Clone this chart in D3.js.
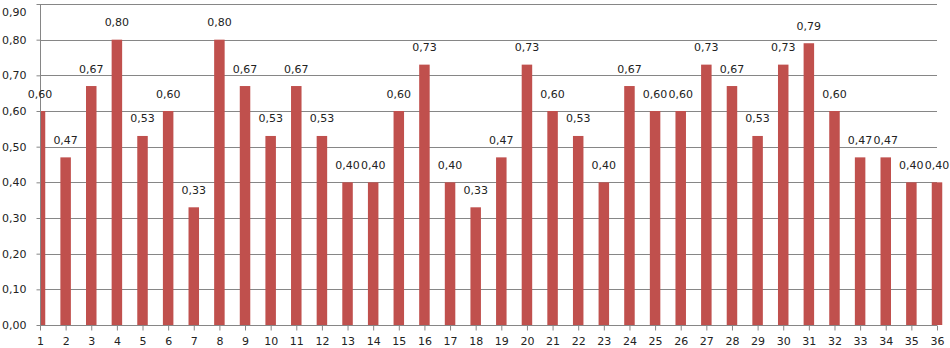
<!DOCTYPE html>
<html><head><meta charset="utf-8">
<script src="https://cdn.jsdelivr.net/npm/d3@7"></script>
<style>body{margin:0;background:#fff}svg{display:block}</style>
</head><body>
<svg id="c" width="950" height="348"></svg>
<script>
const categories = d3.range(1, 37).map(String);
const values = [0.60,0.47,0.67,0.80,0.53,0.60,0.33,0.80,0.67,0.53,0.67,0.53,0.40,0.40,0.60,0.73,0.40,0.33,0.47,0.73,0.60,0.53,0.40,0.67,0.60,0.60,0.73,0.67,0.53,0.73,0.79,0.60,0.47,0.47,0.40,0.40];
const yTicks = [0,0.1,0.2,0.3,0.4,0.5,0.6,0.7,0.8,0.9];

const svg = d3.select("#c");
const L = 40, R = 937, T = 4, B = 325;
const x = d3.scalePoint().domain(categories).range([L, R]).padding(0);
const y = d3.scaleLinear().domain([0, 0.9]).range([B, T]);
const fmt = v => d3.format(".2f")(v).replace(".", ",");
const font = "DejaVu Sans, Verdana, sans-serif";
const grid = "#868686";

svg.append("defs").append("clipPath").attr("id","clp")
  .append("rect").attr("x", L).attr("y", 0).attr("width", 950 - L).attr("height", 348);

// gridlines
svg.append("g").selectAll("line").data(yTicks.slice(1)).join("line")
  .attr("x1", L).attr("x2", R).attr("y1", d => Math.round(y(d)) + 0.5).attr("y2", d => Math.round(y(d)) + 0.5)
  .attr("stroke", grid).attr("stroke-width", 1);

// bars
const bw = 10.5;
svg.append("g").attr("clip-path", "url(#clp)").selectAll("rect").data(values).join("rect")
  .attr("x", (d, i) => x(categories[i]) - bw / 2)
  .attr("width", bw)
  .attr("y", d => y(d))
  .attr("height", d => B - y(d))
  .attr("fill", "#C0504D");

// y axis
const yAxis = d3.axisLeft(y).tickValues(yTicks).tickFormat(fmt).tickSize(4).tickPadding(10);
const gy = svg.append("g").attr("transform", `translate(${L + 0.5},0)`).call(yAxis);
gy.select(".domain").attr("stroke", grid).attr("d", `M0,${T}V${B}`);
gy.selectAll(".tick line").attr("stroke", grid);
gy.selectAll(".tick text").attr("font-family", font).attr("font-size", 11).attr("fill", "#222")
  .attr("dy", d => d >= 0.9 ? "1.0em" : "0.32em");

// x axis
const xAxis = d3.axisBottom(x).tickSize(5).tickPadding(7);
const gx = svg.append("g").attr("transform", `translate(0,${B + 0.5})`).call(xAxis);
gx.select(".domain").attr("stroke", grid).attr("d", `M${L},0H${R}`);
gx.selectAll(".tick line").attr("stroke", grid);
gx.selectAll(".tick text").attr("font-family", font).attr("font-size", 11).attr("fill", "#222");

// data labels
svg.append("g").selectAll("text").data(values).join("text")
  .attr("x", (d, i) => x(categories[i]))
  .attr("y", d => y(d) - 13.5)
  .attr("text-anchor", "middle")
  .attr("font-family", font).attr("font-size", 11).attr("fill", "#222")
  .text(d => fmt(d));
</script>
</body></html>
